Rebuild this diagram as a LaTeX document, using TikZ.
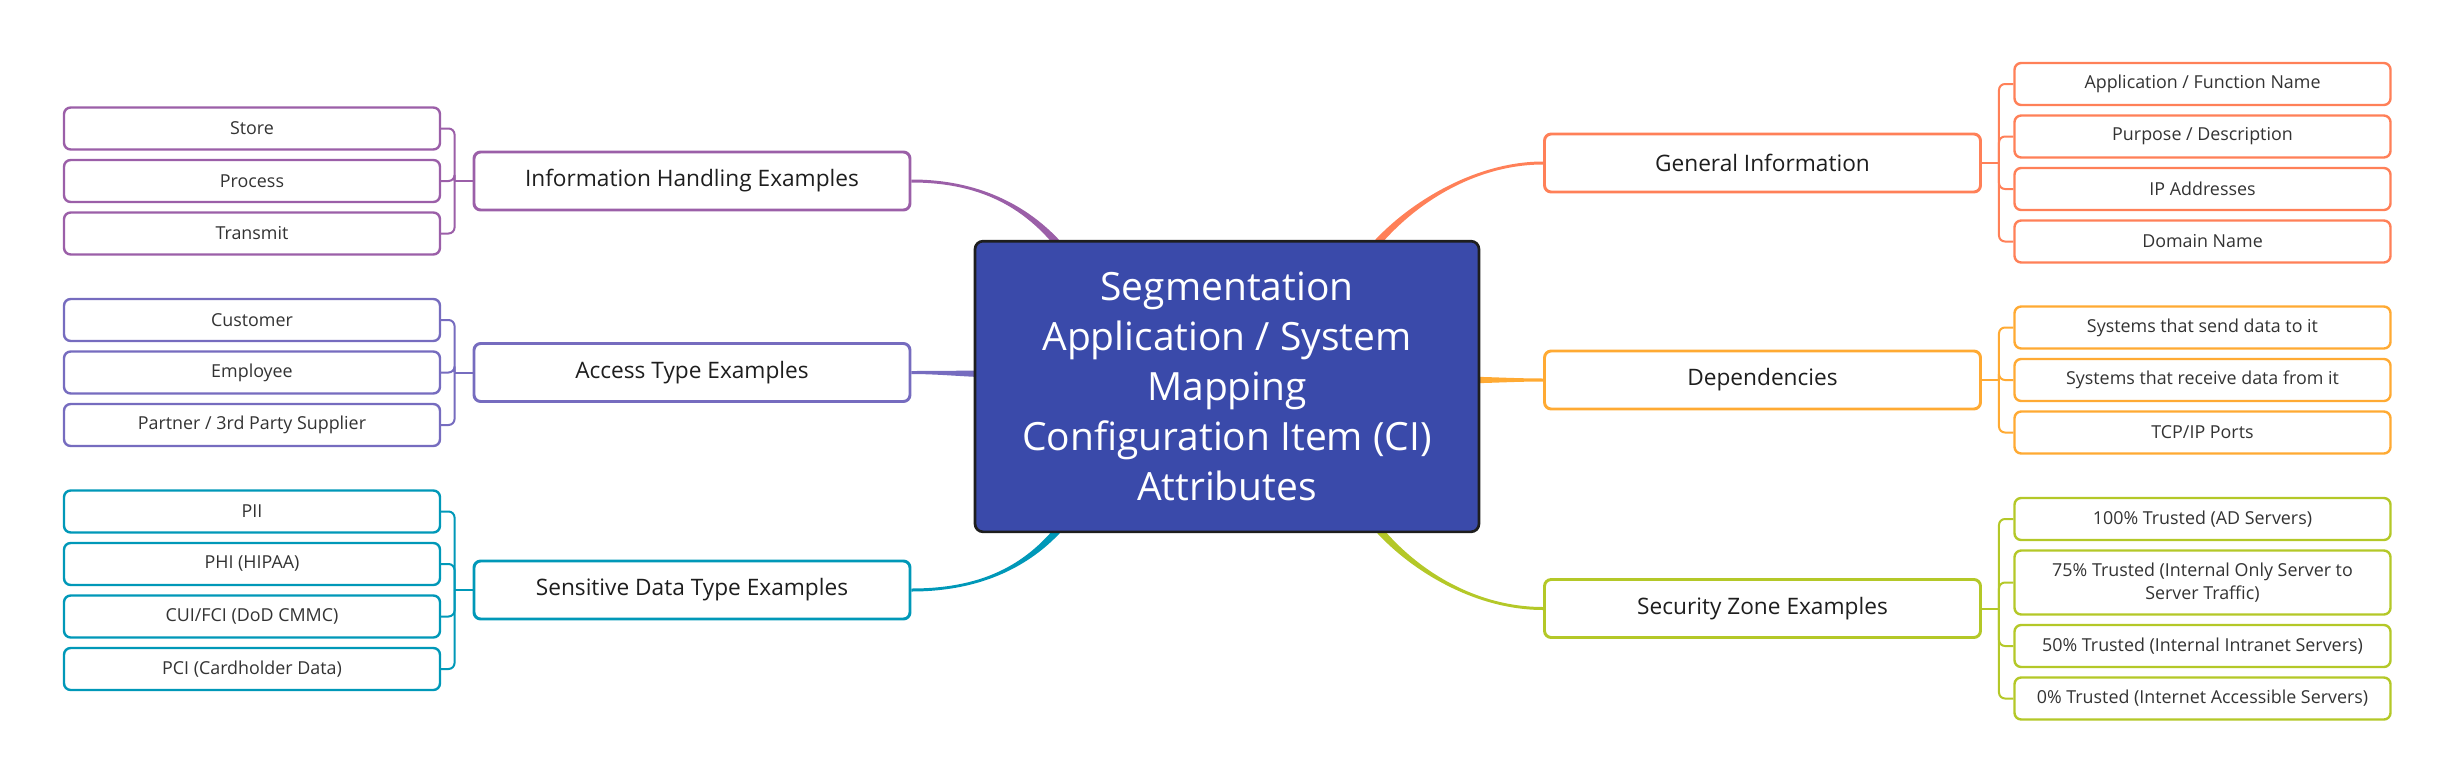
\documentclass[tikz,border=0pt]{standalone}
\usepackage{fontspec}
\setmainfont{Open Sans}
\usetikzlibrary{calc}

\definecolor{infocol}{RGB}{155,95,168}
\definecolor{accesscol}{RGB}{118,108,191}
\definecolor{datacol}{RGB}{0,152,184}
\definecolor{generalcol}{RGB}{255,128,88}
\definecolor{depcol}{RGB}{255,170,51}
\definecolor{zonecol}{RGB}{180,200,40}
\definecolor{rootcol}{RGB}{58,74,170}

\tikzset{every picture/.style={line width=0.75pt}}
\tikzset{
  roottopic/.style={draw={rgb, 255:red, 30; green, 30; blue, 30 }, fill=rootcol, line width=2pt, rounded corners=6pt,
    minimum width=378pt, minimum height=218pt, inner sep=0pt, text=white, align=center, font=\fontsize{29.2}{37.5}\selectfont},
  maintopic/.style={draw=#1, fill=white, line width=2.2pt, rounded corners=5pt,
    minimum width=327pt, minimum height=43.5pt, text={rgb, 255:red, 30; green, 30; blue, 30 }, font=\fontsize{17}{20}\selectfont},
  subtopic/.style={draw=#1, fill=white, line width=1.8pt, rounded corners=5pt,
    minimum width=282pt, minimum height=31.5pt, text={rgb, 255:red, 51; green, 51; blue, 51 }, align=center, font=\fontsize{13.4}{17.25}\selectfont},
  sublink/.style={draw=#1, line width=1.5pt, rounded corners=4.5pt},
}

\begin{document}
\begin{tikzpicture}[x=0.75pt,y=0.75pt,yscale=-1,xscale=1]
\useasboundingbox (0,0) rectangle (2453,782);

%Shape: Main Topics
\node[maintopic=infocol] (info) at (692,181) {Information Handling Examples};
\node[maintopic=accesscol] (access) at (692,372.5) {Access Type Examples};
\node[maintopic=datacol] (data) at (692,590) {Sensitive Data Type Examples};
\node[maintopic=generalcol] (general) at (1762.5,163) {General Information};
\node[maintopic=depcol] (dep) at (1762.5,380) {Dependencies};
\node[maintopic=zonecol] (zone) at (1762.5,608.5) {Security Zone Examples};

%Shape: Subtopics left
\node[subtopic=infocol] (store) at (252,128.5) {Store};
\node[subtopic=infocol] (process) at (252,181) {Process};
\node[subtopic=infocol] (transmit) at (252,233.5) {Transmit};

\node[subtopic=accesscol] (customer) at (252,320) {Customer};
\node[subtopic=accesscol] (employee) at (252,372.5) {Employee};
\node[subtopic=accesscol] (partner) at (252,425) {Partner / 3rd Party Supplier};

\node[subtopic=datacol] (pii) at (252,511.5) {PII};
\node[subtopic=datacol] (phi) at (252,564) {PHI (HIPAA)};
\node[subtopic=datacol] (cui) at (252,616.5) {CUI/FCI (DoD CMMC)};
\node[subtopic=datacol] (pci) at (252,669) {PCI (Cardholder Data)};

%Shape: Subtopics right
\node[subtopic=generalcol] (appname) at (2202.5,84) {Application / Function Name};
\node[subtopic=generalcol] (purpose) at (2202.5,136.5) {Purpose / Description};
\node[subtopic=generalcol] (ipaddr) at (2202.5,189) {IP Addresses};
\node[subtopic=generalcol] (domain) at (2202.5,241.5) {Domain Name};

\node[subtopic=depcol] (sendsys) at (2202.5,327.5) {Systems that send data to it};
\node[subtopic=depcol] (recvsys) at (2202.5,380) {Systems that receive data from it};
\node[subtopic=depcol] (ports) at (2202.5,432.5) {TCP/IP Ports};

\node[subtopic=zonecol] (trust100) at (2202.5,519) {100\% Trusted (AD Servers)};
\node[subtopic=zonecol, minimum height=48pt] (trust75) at (2202.5,582.5) {75\% Trusted (Internal Only Server to\\Server Traffic)};
\node[subtopic=zonecol] (trust50) at (2202.5,646) {50\% Trusted (Internal Intranet Servers)};
\node[subtopic=zonecol] (trust0) at (2202.5,698.5) {0\% Trusted (Internet Accessible Servers)};

%Straight Lines: brackets
\coordinate (infoj) at ($(info.west)+(-18,0)$);
\draw[sublink=infocol] (info.west) -- (infoj);
\foreach \c in {store,process,transmit} \draw[sublink=infocol] (infoj) |- (\c.east);

\coordinate (accessj) at ($(access.west)+(-18,0)$);
\draw[sublink=accesscol] (access.west) -- (accessj);
\foreach \c in {customer,employee,partner} \draw[sublink=accesscol] (accessj) |- (\c.east);

\coordinate (dataj) at ($(data.west)+(-18,0)$);
\draw[sublink=datacol] (data.west) -- (dataj);
\foreach \c in {pii,phi,cui,pci} \draw[sublink=datacol] (dataj) |- (\c.east);

\coordinate (generalj) at ($(general.east)+(17,0)$);
\draw[sublink=generalcol] (general.east) -- (generalj);
\foreach \c in {appname,purpose,ipaddr,domain} \draw[sublink=generalcol] (generalj) |- (\c.west);

\coordinate (depj) at ($(dep.east)+(17,0)$);
\draw[sublink=depcol] (dep.east) -- (depj);
\foreach \c in {sendsys,recvsys,ports} \draw[sublink=depcol] (depj) |- (\c.west);

\coordinate (zonej) at ($(zone.east)+(17,0)$);
\draw[sublink=zonecol] (zone.east) -- (zonej);
\foreach \c in {trust100,trust75,trust50,trust0} \draw[sublink=zonecol] (zonej) |- (\c.west);

%Curve Lines: branches (tapered, root end hidden under the central topic)
\coordinate (inforoot) at (1072,262);
\coordinate (accessroot) at (1000,374);
\coordinate (dataroot) at (1072,512);
\coordinate (generalroot) at (1362,262);
\coordinate (deproot) at (1455,380);
\coordinate (zoneroot) at (1365,512);

\fill[infocol] ($(info.east)+(0,-1.5)$) .. controls +(75,0) and +(-35,-50) .. ($(inforoot)+(5,0)$) -- ($(inforoot)+(-5,0)$) .. controls +(-35,-50) and +(75,0) .. ($(info.east)+(0,1.5)$) -- cycle;

\fill[accesscol] ($(access.east)+(0,-1.5)$) .. controls +(30,0) and +(-30,0) .. ($(accessroot)+(0,-3.5)$) -- ($(accessroot)+(0,3.5)$) .. controls +(-30,0) and +(30,0) .. ($(access.east)+(0,1.5)$) -- cycle;

\fill[datacol] ($(data.east)+(0,-1.5)$) .. controls +(75,0) and +(-35,50) .. ($(dataroot)+(-5,0)$) -- ($(dataroot)+(5,0)$) .. controls +(-35,50) and +(75,0) .. ($(data.east)+(0,1.5)$) -- cycle;

\fill[generalcol] ($(general.west)+(0,-1.5)$) .. controls +(-75,0) and +(35,-50) .. ($(generalroot)+(-5,0)$) -- ($(generalroot)+(5,0)$) .. controls +(35,-50) and +(-75,0) .. ($(general.west)+(0,1.5)$) -- cycle;

\fill[depcol] ($(dep.west)+(0,-1.5)$) .. controls +(-30,0) and +(30,0) .. ($(deproot)+(0,-3.5)$) -- ($(deproot)+(0,3.5)$) .. controls +(30,0) and +(-30,0) .. ($(dep.west)+(0,1.5)$) -- cycle;

\fill[zonecol] ($(zone.west)+(0,-1.5)$) .. controls +(-75,0) and +(35,50) .. ($(zoneroot)+(5,0)$) -- ($(zoneroot)+(-5,0)$) .. controls +(35,50) and +(-75,0) .. ($(zone.west)+(0,1.5)$) -- cycle;

%Shape: Central Topic
\node[roottopic] (root) at (1227,386.5) {Segmentation\\Application / System\\Mapping\\Configuration Item (CI)\\Attributes};

\end{tikzpicture}
\end{document}
